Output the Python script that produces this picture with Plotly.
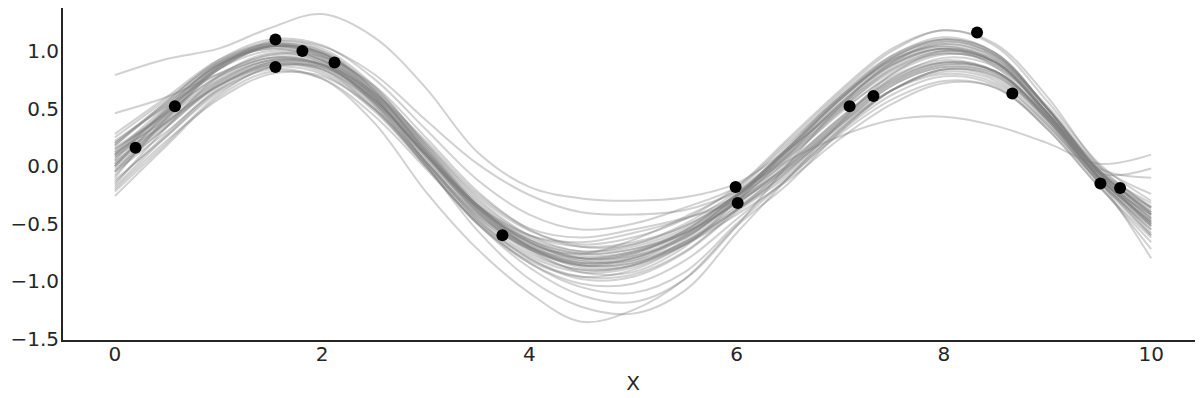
import plotly.graph_objects as go

# grid on which the posterior sample curves were read
x_grid = [0.0, 0.5, 1.0, 1.5, 2.0, 2.5, 3.0, 3.5, 4.0, 4.5, 5.0, 5.5, 6.0, 6.5, 7.0, 7.5, 8.0, 8.5, 9.0, 9.5, 10.0]

# posterior sample curves
s01 = [0.79, 0.93, 1.02, 1.20, 1.32, 1.12, 0.68, 0.12, -0.18, -0.28, -0.30, -0.27, -0.15, 0.15, 0.50, 0.82, 0.98, 0.88, 0.45, -0.05, -0.40]
s02 = [0.46, 0.60, 0.80, 0.97, 0.95, 0.70, 0.25, -0.22, -0.55, -0.70, -0.68, -0.52, -0.25, 0.10, 0.48, 0.78, 0.92, 0.82, 0.42, -0.10, -0.48]
s03 = [0.10, 0.48, 0.84, 1.00, 0.92, 0.58, 0.10, -0.36, -0.66, -0.80, -0.76, -0.56, -0.25, 0.05, 0.26, 0.40, 0.43, 0.35, 0.20, 0.02, 0.10]
s04 = [-0.05, 0.30, 0.66, 0.84, 0.76, 0.38, -0.22, -0.72, -1.10, -1.35, -1.25, -0.98, -0.52, -0.15, 0.30, 0.66, 0.84, 0.76, 0.38, -0.12, -0.55]
s05 = [0.00, 0.44, 0.84, 1.04, 0.98, 0.62, 0.02, -0.56, -0.98, -1.22, -1.28, -1.08, -0.58, -0.10, 0.38, 0.80, 1.00, 0.90, 0.44, -0.12, -0.60]
s06 = [0.12, 0.40, 0.70, 0.86, 0.80, 0.48, 0.00, -0.50, -0.88, -1.12, -1.18, -0.98, -0.52, 0.02, 0.52, 0.90, 1.08, 0.96, 0.50, -0.06, -0.52]
s07 = [-0.10, 0.42, 0.86, 1.08, 1.04, 0.80, 0.40, 0.02, -0.25, -0.40, -0.42, -0.38, -0.22, 0.08, 0.46, 0.80, 0.97, 0.90, 0.50, -0.02, -0.35]
s08 = [0.20, 0.56, 0.92, 1.10, 1.05, 0.76, 0.32, -0.12, -0.42, -0.55, -0.50, -0.36, -0.18, 0.22, 0.64, 1.00, 1.18, 1.04, 0.56, 0.02, -0.30]
s09 = [-0.20, 0.22, 0.58, 0.80, 0.78, 0.50, 0.04, -0.42, -0.72, -0.86, -0.82, -0.62, -0.30, 0.00, 0.36, 0.66, 0.80, 0.72, 0.36, -0.12, -0.42]
s10 = [0.05, 0.48, 0.88, 1.06, 1.00, 0.66, 0.14, -0.35, -0.66, -0.80, -0.75, -0.58, -0.26, 0.18, 0.62, 0.96, 1.10, 0.96, 0.50, -0.06, -0.45]
s11 = [-0.26, 0.18, 0.60, 0.82, 0.76, 0.44, -0.02, -0.48, -0.80, -0.98, -0.96, -0.75, -0.40, -0.08, 0.30, 0.62, 0.78, 0.70, 0.32, -0.18, -0.62]
s12 = [0.28, 0.60, 0.92, 1.06, 0.96, 0.62, 0.10, -0.38, -0.68, -0.76, -0.64, -0.44, -0.20, 0.20, 0.60, 0.92, 1.04, 0.90, 0.46, -0.06, -0.38]
s13 = [0.15, 0.44, 0.76, 0.94, 0.90, 0.62, 0.18, -0.30, -0.60, -0.66, -0.58, -0.46, -0.26, 0.04, 0.42, 0.74, 0.90, 0.82, 0.42, -0.10, -0.50]
s14 = [-0.05, 0.42, 0.84, 1.04, 0.98, 0.66, 0.12, -0.38, -0.72, -0.92, -0.92, -0.70, -0.30, 0.16, 0.60, 0.94, 1.08, 0.96, 0.50, -0.04, -0.42]
s15 = [0.08, 0.38, 0.70, 0.88, 0.82, 0.50, 0.02, -0.44, -0.72, -0.84, -0.78, -0.60, -0.32, -0.02, 0.34, 0.66, 0.82, 0.74, 0.36, -0.14, -0.55]
s16 = [0.18, 0.54, 0.88, 1.02, 0.92, 0.58, 0.10, -0.34, -0.60, -0.70, -0.66, -0.52, -0.26, 0.12, 0.54, 0.90, 1.06, 0.94, 0.48, -0.04, -0.32]
s17 = [-0.12, 0.26, 0.64, 0.86, 0.86, 0.60, 0.14, -0.36, -0.70, -0.86, -0.84, -0.66, -0.36, -0.02, 0.38, 0.72, 0.88, 0.82, 0.44, -0.10, -0.48]
s18 = [0.02, 0.46, 0.86, 1.04, 0.96, 0.60, 0.06, -0.44, -0.76, -0.90, -0.86, -0.66, -0.31, 0.10, 0.54, 0.88, 1.02, 0.90, 0.46, -0.08, -0.46]
s19 = [0.22, 0.52, 0.80, 0.96, 0.92, 0.64, 0.20, -0.26, -0.56, -0.68, -0.62, -0.46, -0.18, 0.24, 0.66, 1.02, 1.18, 1.06, 0.60, 0.00, -0.36]
s20 = [-0.16, 0.34, 0.78, 0.98, 0.90, 0.54, 0.00, -0.50, -0.84, -1.02, -1.02, -0.82, -0.46, -0.10, 0.28, 0.58, 0.74, 0.68, 0.32, -0.18, -0.66]
s21 = [0.06, 0.50, 0.90, 1.08, 1.02, 0.70, 0.18, -0.32, -0.62, -0.74, -0.68, -0.50, -0.22, 0.14, 0.52, 0.84, 0.98, 0.88, 0.46, -0.05, -0.40]
s22 = [-0.02, 0.34, 0.70, 0.90, 0.88, 0.64, 0.22, -0.24, -0.54, -0.62, -0.55, -0.45, -0.30, 0.06, 0.48, 0.84, 1.00, 0.90, 0.46, -0.10, -0.58]
s23 = [0.10, 0.42, 0.74, 0.92, 0.86, 0.54, 0.04, -0.46, -0.78, -0.92, -0.88, -0.68, -0.38, -0.04, 0.36, 0.70, 0.86, 0.80, 0.40, -0.10, -0.50]
s24 = [0.25, 0.58, 0.90, 1.04, 0.94, 0.60, 0.10, -0.36, -0.64, -0.76, -0.72, -0.58, -0.28, 0.14, 0.58, 0.94, 1.10, 0.98, 0.50, -0.04, -0.36]
s25 = [-0.22, 0.20, 0.62, 0.86, 0.84, 0.52, 0.02, -0.48, -0.84, -1.05, -1.10, -0.92, -0.50, -0.10, 0.32, 0.66, 0.84, 0.78, 0.40, -0.14, -0.60]
s26 = [0.00, 0.46, 0.86, 1.06, 1.00, 0.68, 0.16, -0.34, -0.64, -0.76, -0.72, -0.56, -0.26, 0.16, 0.58, 0.92, 1.04, 0.92, 0.46, -0.08, -0.44]
s27 = [0.14, 0.46, 0.78, 0.94, 0.88, 0.58, 0.12, -0.34, -0.66, -0.82, -0.82, -0.66, -0.38, -0.06, 0.32, 0.66, 0.84, 0.78, 0.40, -0.10, -0.52]
s28 = [-0.08, 0.40, 0.84, 1.04, 0.98, 0.66, 0.14, -0.34, -0.68, -0.84, -0.80, -0.60, -0.26, 0.14, 0.58, 0.94, 1.10, 0.98, 0.50, -0.04, -0.40]
s29 = [0.04, 0.38, 0.72, 0.90, 0.84, 0.50, 0.00, -0.50, -0.82, -0.96, -0.90, -0.68, -0.34, 0.02, 0.42, 0.76, 0.90, 0.82, 0.42, -0.10, -0.48]
s30 = [0.18, 0.56, 0.90, 1.06, 0.98, 0.64, 0.12, -0.34, -0.64, -0.80, -0.78, -0.62, -0.30, 0.10, 0.52, 0.88, 1.02, 0.92, 0.52, 0.00, -0.24]
s31 = [-0.14, 0.28, 0.68, 0.90, 0.88, 0.62, 0.16, -0.34, -0.70, -0.88, -0.86, -0.68, -0.38, -0.04, 0.36, 0.70, 0.86, 0.80, 0.42, -0.08, -0.42]
s32 = [0.10, 0.50, 0.88, 1.04, 0.94, 0.60, 0.08, -0.40, -0.72, -0.86, -0.80, -0.60, -0.26, 0.16, 0.60, 0.96, 1.12, 0.98, 0.50, -0.06, -0.50]
s33 = [0.00, 0.36, 0.70, 0.88, 0.84, 0.56, 0.10, -0.36, -0.70, -0.86, -0.84, -0.68, -0.42, -0.12, 0.24, 0.54, 0.72, 0.68, 0.34, -0.14, -0.52]
s34 = [0.20, 0.54, 0.88, 1.04, 0.98, 0.68, 0.20, -0.28, -0.60, -0.74, -0.70, -0.54, -0.24, 0.16, 0.58, 0.92, 1.06, 0.94, 0.50, -0.04, -0.42]
s35 = [-0.04, 0.34, 0.72, 0.92, 0.88, 0.56, 0.04, -0.46, -0.80, -0.96, -0.94, -0.74, -0.38, 0.00, 0.40, 0.76, 0.94, 0.86, 0.46, -0.06, -0.36]
s36 = [0.12, 0.52, 0.88, 1.02, 0.92, 0.56, 0.04, -0.42, -0.70, -0.80, -0.74, -0.56, -0.24, 0.14, 0.56, 0.90, 1.02, 0.86, 0.40, -0.16, -0.72]
s37 = [0.02, 0.38, 0.74, 0.92, 0.88, 0.58, 0.10, -0.38, -0.70, -0.82, -0.76, -0.58, -0.32, 0.02, 0.40, 0.74, 0.90, 0.82, 0.44, -0.02, -0.10]
s38 = [-0.18, 0.26, 0.66, 0.88, 0.86, 0.58, 0.10, -0.40, -0.74, -0.90, -0.86, -0.64, -0.28, 0.12, 0.54, 0.88, 1.02, 0.90, 0.44, -0.12, -0.80]
s39 = [0.08, 0.48, 0.86, 1.04, 0.96, 0.64, 0.12, -0.36, -0.66, -0.78, -0.74, -0.58, -0.32, 0.00, 0.38, 0.72, 0.88, 0.82, 0.42, -0.06, -0.02]
s40 = [0.16, 0.46, 0.78, 0.94, 0.88, 0.56, 0.08, -0.40, -0.70, -0.84, -0.80, -0.62, -0.30, 0.08, 0.50, 0.86, 1.00, 0.90, 0.46, -0.06, -0.46]

samples = [s01, s02, s03, s04, s05, s06, s07, s08, s09, s10,
           s11, s12, s13, s14, s15, s16, s17, s18, s19, s20,
           s21, s22, s23, s24, s25, s26, s27, s28, s29, s30,
           s31, s32, s33, s34, s35, s36, s37, s38, s39, s40]

# observed data points
obs_x = [0.20, 0.58, 1.55, 1.55, 1.81, 2.12, 3.74, 5.99, 6.01, 7.09, 7.32, 8.32, 8.66, 9.51, 9.70]
obs_y = [0.16, 0.52, 1.10, 0.86, 1.00, 0.90, -0.60, -0.18, -0.32, 0.52, 0.61, 1.16, 0.63, -0.15, -0.19]

x_ticks = [0, 2, 4, 6, 8, 10]
y_ticks = [-1.5, -1.0, -0.5, 0.0, 0.5, 1.0]
y_tick_text = ["\u22121.5", "\u22121.0", "\u22120.5", "0.0", "0.5", "1.0"]

fig = go.Figure()
for s in samples:
    fig.add_trace(go.Scatter(
        x=x_grid, y=s, mode="lines",
        line=dict(color="rgba(128,128,128,0.36)", width=2, shape="spline", smoothing=1.0),
        showlegend=False, hoverinfo="skip"))

fig.add_trace(go.Scatter(
    x=obs_x, y=obs_y, mode="markers",
    marker=dict(color="black", size=12),
    showlegend=False))

# the page body adds an 8 px offset, so the figure is sized 8 px smaller
font_color = "#262626"
fig.update_layout(
    width=1195, height=390,
    margin=dict(l=55, r=0, t=0, b=58),
    plot_bgcolor="white", paper_bgcolor="white",
    font=dict(family="DejaVu Sans", size=20, color=font_color),
    xaxis=dict(
        range=[-0.5, 10.5], tickvals=x_ticks, showgrid=False, zeroline=False,
        showline=True, linecolor=font_color, linewidth=2, ticks="", ticklen=0,
        automargin=False, ticklabelstandoff=-5,
        title=dict(text="X", font=dict(size=20, color=font_color), standoff=11)),
    yaxis=dict(
        range=[-1.509, 1.373], tickvals=y_ticks, ticktext=y_tick_text,
        showgrid=False, zeroline=False, automargin=False,
        showline=True, linecolor=font_color, linewidth=2, ticks="", ticklen=0,
        ticklabelstandoff=-2),
)

fig.write_html("out.html")
